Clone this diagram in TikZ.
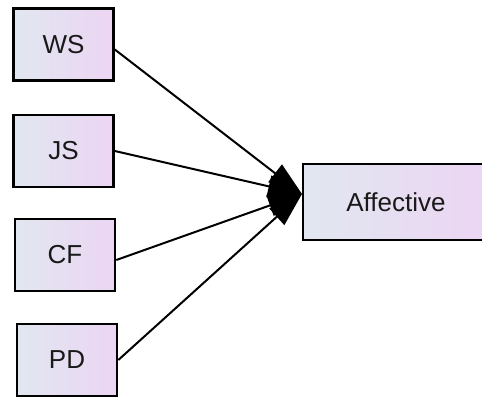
\documentclass[tikz,border=0pt]{standalone}
\usepackage{fontspec}
\setmainfont{Liberation Sans}
\usetikzlibrary{arrows.meta}
\definecolor{boxleft}{RGB}{225,231,240}
\definecolor{boxright}{RGB}{236,213,243}
\tikzset{
  varbox/.style={draw=black, line width=2.6pt, left color=boxleft, right color=boxright,
    shading angle=90, minimum width=100pt, minimum height=72pt, inner sep=0pt,
    font=\fontsize{26}{30}\selectfont, text=black!90},
  link/.style={line width=2pt, draw=black, -{Triangle[length=34pt,width=22pt]}}
}
\begin{document}
\begin{tikzpicture}[x=1pt,y=-1pt]
\clip (0,0) rectangle (482,400);
\fill[white] (0,0) rectangle (482,400);
\node[varbox] (WS) at (63.5,44.5) {WS};
\node[varbox] (JS) at (63.5,151) {JS};
\node[varbox] (CF) at (65,255) {CF};
\node[varbox] (PD) at (67,360) {PD};
\coordinate (hub) at (302,194);
\draw[link] ([yshift=-5pt]WS.east) -- (hub);
\draw[link] (JS.east) -- (hub);
\draw[link] ([yshift=-5pt]CF.east) -- (hub);
\draw[link] (PD.east) -- (hub);
\node[varbox, minimum width=186pt, minimum height=76pt] (AF) at (396,202) {Affective};
\end{tikzpicture}
\end{document}
